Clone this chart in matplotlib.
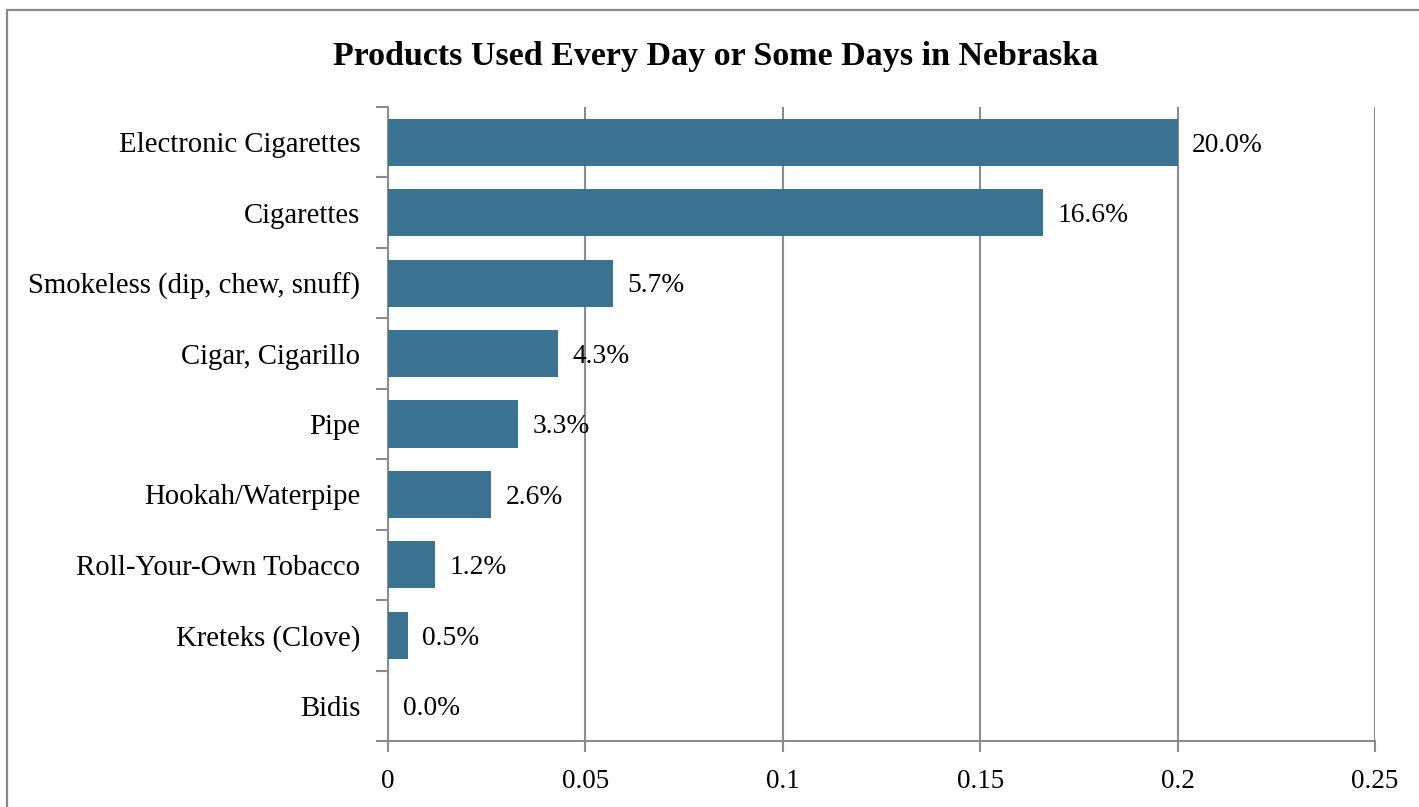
import matplotlib
matplotlib.use("Agg")
import matplotlib.pyplot as plt
from matplotlib.patches import Rectangle
from matplotlib.ticker import FixedLocator, FuncFormatter

products: list[str] = [
    "Electronic Cigarettes",
    "Cigarettes",
    "Smokeless (dip, chew, snuff)",
    "Cigar, Cigarillo",
    "Pipe",
    "Hookah/Waterpipe",
    "Roll-Your-Own Tobacco",
    "Kreteks (Clove)",
    "Bidis",
]
shares: list[float] = [0.200, 0.166, 0.057, 0.043, 0.033, 0.026, 0.012, 0.005, 0.000]
x_ticks: list[float] = [0, 0.05, 0.1, 0.15, 0.2, 0.25]

BAR_COLOR: str = "#3A7391"
GRID_COLOR: str = "#8C8C8C"

plt.rcParams["font.family"] = ["Liberation Serif", "DejaVu Serif"]

W, H = 1419, 807
fig = plt.figure(figsize=(W / 100, H / 100), dpi=100)
ax = fig.add_axes([388 / W, 66 / H, (1375 - 388) / W, (741 - 107) / H])

# outer chart frame, runs off the right and bottom edges
fig.patches.append(Rectangle((7 / W, -0.05), 1.1, (H - 10) / H + 0.05,
                             transform=fig.transFigure, fill=False,
                             edgecolor="#888888", linewidth=1.6))

positions = list(range(len(products)))
ax.barh(positions, shares, height=0.67, color=BAR_COLOR, zorder=3)

for pos, val in zip(positions, shares):
    ax.text(val + 0.0037, pos + 0.04, f"{val * 100:.1f}%", va="center", ha="left",
            fontsize=19.8, color="black", zorder=4)

ax.set_xlim(0, 0.25)
ax.set_ylim(len(products) - 0.5, -0.5)
ax.xaxis.set_major_locator(FixedLocator(x_ticks))
ax.xaxis.set_major_formatter(FuncFormatter(lambda v, p: f"{v:g}"))
ax.grid(axis="x", color=GRID_COLOR, linewidth=1.5, zorder=0)
ax.set_axisbelow(True)

ax.set_yticks(positions)
ax.set_yticklabels(products)
ax.set_yticks([p - 0.5 for p in positions] + [len(products) - 0.5], minor=True)
ax.tick_params(axis="y", which="major", length=0, pad=20, labelsize=20.7)
ax.tick_params(axis="y", which="minor", length=9, width=1.5, color=GRID_COLOR, direction="out")
ax.tick_params(axis="x", which="major", length=8, width=1.5, color=GRID_COLOR,
               direction="out", pad=12, labelsize=19.5)

for side in ("top", "right"):
    ax.spines[side].set_visible(False)
for side in ("left", "bottom"):
    ax.spines[side].set_color(GRID_COLOR)
    ax.spines[side].set_linewidth(1.5)

fig.text(716 / W, 1 - 56 / H, "Products Used Every Day or Some Days in Nebraska",
         ha="center", va="center", fontsize=24.5, fontweight="bold")

fig.savefig("out.png", dpi=100)
